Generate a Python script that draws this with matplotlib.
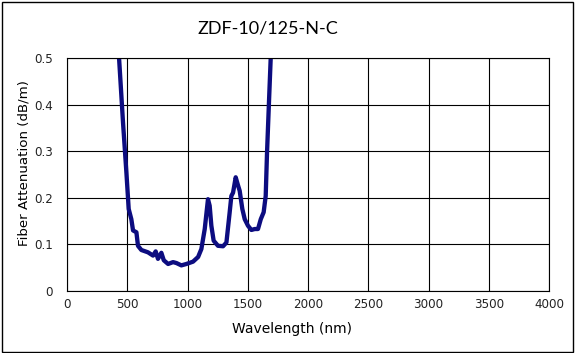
import matplotlib
matplotlib.use('Agg')
import matplotlib.pyplot as plt
from matplotlib.patches import Rectangle

# attenuation curve
wavelength = [426, 432, 465, 493, 512, 534, 548, 576, 589, 617, 672, 714, 736, 755,
              783, 803, 839, 880, 908, 949, 991, 1046, 1088, 1115, 1143, 1170, 1184,
              1198, 1217, 1253, 1295, 1323, 1350, 1364, 1378, 1400, 1420, 1433, 1455,
              1475, 1502, 1530, 1558, 1585, 1608, 1632, 1649, 1660, 1677, 1691, 1695]
attenuation = [0.54, 0.50, 0.361, 0.254, 0.176, 0.154, 0.130, 0.126, 0.097, 0.088,
               0.083, 0.076, 0.085, 0.069, 0.082, 0.066, 0.058, 0.062, 0.060, 0.055,
               0.058, 0.063, 0.073, 0.090, 0.133, 0.197, 0.183, 0.140, 0.108, 0.097,
               0.096, 0.104, 0.169, 0.204, 0.211, 0.244, 0.226, 0.215, 0.176, 0.154,
               0.140, 0.131, 0.133, 0.133, 0.154, 0.169, 0.204, 0.297, 0.411, 0.503, 0.54]

xticks = [0, 500, 1000, 1500, 2000, 2500, 3000, 3500, 4000]
yticks = [0, 0.1, 0.2, 0.3, 0.4, 0.5]
ytick_labels = ['0', '0.1', '0.2', '0.3', '0.4', '0.5']

fig = plt.figure(figsize=(5.77, 3.53), dpi=100)
ax = fig.add_axes([67 / 577, 1 - 291 / 353, 482 / 577, 233 / 353])

ax.plot(wavelength, attenuation, color='#0c0c80', linewidth=3.1,
        solid_joinstyle='round', solid_capstyle='butt')

ax.set_xlim(0, 4000)
ax.set_ylim(0, 0.5)
ax.set_xticks(xticks)
ax.set_yticks(yticks)
ax.set_yticklabels(ytick_labels)
ax.tick_params(length=0, labelsize=8.6, colors='#222222')
ax.tick_params(axis='x', pad=5)
ax.tick_params(axis='y', pad=10)
ax.grid(True, color='black', linewidth=0.8)
ax.set_axisbelow(True)
for s in ax.spines.values():
    s.set_color('black')
    s.set_linewidth(0.8)

fig.text(0.4645, 0.919, 'ZDF-10/125-N-C', ha='center', va='center',
         fontsize=13, family='Lato')
fig.text(0.506, 0.068, 'Wavelength (nm)', ha='center', va='center', fontsize=10)
fig.text(0.041, 0.538, 'Fiber Attenuation (dB/m)', ha='center', va='center',
         rotation=90, fontsize=9.6)

# chart border
fig.patches.append(Rectangle((1.5 / 577, 1 / 353), 571 / 577, 350 / 353,
                             transform=fig.transFigure, fill=False,
                             edgecolor='black', linewidth=1))

plt.savefig('out.png', dpi=100)
